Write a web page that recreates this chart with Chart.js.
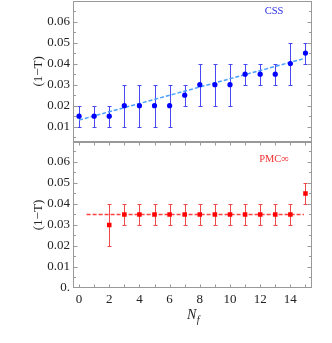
<!DOCTYPE html>
<html>
<head>
<meta charset="utf-8">
<script src="https://cdn.jsdelivr.net/npm/chart.js@4"></script>
<style>
  html, body { margin: 0; padding: 0; background: #fff; }
  #wrap { position: relative; width: 332px; height: 343px; }
  .box { position: absolute; left: 0; width: 332px; }
  #top { top: 0; height: 143px; }
  #bot { top: 142px; height: 201px; }
</style>
</head>
<body>
<div id="wrap">
  <div class="box" id="top"><canvas id="cTop"></canvas></div>
  <div class="box" id="bot"><canvas id="cBot"></canvas></div>
</div>
<script>
// data
const cssN   = [0, 1, 2, 3, 4, 5, 6, 7, 8, 9, 10, 11, 12, 13, 14, 15];
const cssVal = [0.015, 0.015, 0.015, 0.02, 0.02, 0.02, 0.02, 0.025, 0.03, 0.03, 0.03, 0.035, 0.035, 0.035, 0.04, 0.045];
const cssLo  = [0.01, 0.01, 0.01, 0.01, 0.01, 0.01, 0.01, 0.02, 0.02, 0.02, 0.02, 0.03, 0.03, 0.03, 0.03, 0.04];
const cssHi  = [0.02, 0.02, 0.02, 0.03, 0.03, 0.03, 0.03, 0.03, 0.04, 0.04, 0.04, 0.04, 0.04, 0.04, 0.05, 0.05];
const cssFitX = [0, 15];
const cssFitY = [0.0132, 0.0426];

const pmcN   = [2, 3, 4, 5, 6, 7, 8, 9, 10, 11, 12, 13, 14, 15];
const pmcVal = [0.03, 0.035, 0.035, 0.035, 0.035, 0.035, 0.035, 0.035, 0.035, 0.035, 0.035, 0.035, 0.035, 0.045];
const pmcLo  = [0.02, 0.03, 0.03, 0.03, 0.03, 0.03, 0.03, 0.03, 0.03, 0.03, 0.03, 0.03, 0.03, 0.04];
const pmcHi  = [0.04, 0.04, 0.04, 0.04, 0.04, 0.04, 0.04, 0.04, 0.04, 0.04, 0.04, 0.04, 0.04, 0.05];
const pmcFitX = [0.5, 14.9];
const pmcFitY = [0.035, 0.035];

const xTicks = [0, 2, 4, 6, 8, 10, 12, 14];
const yTicksTop = [0.01, 0.02, 0.03, 0.04, 0.05, 0.06];
const yTicksBot = [0, 0.01, 0.02, 0.03, 0.04, 0.05, 0.06];

const SERIF = "'Liberation Serif', 'DejaVu Serif', serif";

const errorBars = {
  id: 'errorBars',
  beforeDatasetsDraw(chart, args, o) {
    const { ctx, scales: { x, y } } = chart;
    ctx.save();
    ctx.strokeStyle = o.color;
    ctx.lineWidth = 1;
    o.xs.forEach((v, i) => {
      const px = Math.round(x.getPixelForValue(v)) + 0.5;
      const y1 = Math.round(y.getPixelForValue(o.lo[i])) + 0.5;
      const y2 = Math.round(y.getPixelForValue(o.hi[i])) + 0.5;
      ctx.beginPath();
      ctx.moveTo(px, y1); ctx.lineTo(px, y2);
      ctx.moveTo(px - 2, y1); ctx.lineTo(px + 2, y1);
      ctx.moveTo(px - 2, y2); ctx.lineTo(px + 2, y2);
      ctx.stroke();
    });
    ctx.restore();
  }
};

// frame, inside ticks and panel labels
const frame = {
  id: 'frame',
  afterDraw(chart, args, o) {
    const { ctx, chartArea: a, scales: { x, y } } = chart;
    const L = Math.round(a.left) + 0.5, R = Math.round(a.right) - 0.5;
    const T = Math.round(a.top) + 0.5, B = Math.round(a.bottom) - 0.5;
    ctx.save();
    ctx.strokeStyle = '#999';
    ctx.lineWidth = 1;
    ctx.strokeRect(L, T, R - L, B - T);
    ctx.beginPath();
    for (let k = 0; k <= 14; k++) {
      const v = k * 0.005;
      const py = Math.round(y.getPixelForValue(v)) + 0.5;
      if (py < T + 1 || py > B - 1) continue;
      const len = k % 2 === 0 ? 4 : 2.5;
      ctx.moveTo(L, py); ctx.lineTo(L + len, py);
      ctx.moveTo(R, py); ctx.lineTo(R - len, py);
    }
    if (o.xTicks) {
      for (let n = 0; n <= 15; n++) {
        const px = Math.round(x.getPixelForValue(n)) + 0.5;
        ctx.moveTo(px, T); ctx.lineTo(px, T + 3);
        ctx.moveTo(px, B); ctx.lineTo(px, B - 3);
      }
    }
    ctx.stroke();

    ctx.fillStyle = o.labelColor;
    ctx.font = '10.5px ' + SERIF;
    ctx.textAlign = 'center';
    ctx.textBaseline = 'middle';
    ctx.fillText(o.label, a.right - 37.5, a.top + o.labelDy);

    if (o.xTitle) {
      const cx = (a.left + a.right) / 2 + 2;
      ctx.fillStyle = '#222';
      ctx.font = 'italic 14px ' + SERIF;
      ctx.textAlign = 'right';
      ctx.fillText('N', cx + 2, a.bottom + 27);
      ctx.font = 'italic 10px ' + SERIF;
      ctx.textAlign = 'left';
      ctx.fillText('f', cx + 2.5, a.bottom + 32);
    }
    ctx.restore();
  }
};

function yScale(min, max, ticks) {
  return {
    type: 'linear',
    min: min,
    max: max,
    afterBuildTicks: s => { s.ticks = ticks.map(v => ({ value: v })); },
    afterFit: s => { s.width = 73; s.paddingTop = 0; s.paddingBottom = 0; },
    grid: { display: false, drawTicks: false },
    border: { display: false },
    ticks: {
      padding: 3,
      color: '#222',
      font: { family: SERIF, size: 13 },
      callback: v => v === 0 ? '0.' : v.toFixed(2)
    },
    title: {
      display: true,
      text: '(1\u2212T)',
      color: '#222',
      padding: { top: 31, bottom: 0 },
      font: { family: SERIF, size: 13 }
    }
  };
}

function makeChart(id, cfg) {
  return new Chart(document.getElementById(id), {
    type: 'scatter',
    data: {
      datasets: [
        {
          data: cfg.n.map((n, i) => ({ x: n, y: cfg.val[i] })),
          pointStyle: cfg.pointStyle,
          pointRadius: cfg.pointRadius,
          backgroundColor: cfg.pointColor,
          borderColor: cfg.pointColor,
          borderWidth: 0,
          order: 0
        },
        {
          data: cfg.fitX.map((v, i) => ({ x: v, y: cfg.fitY[i] })),
          showLine: true,
          pointRadius: 0,
          borderColor: cfg.fitColor,
          borderWidth: 1.5,
          borderDash: [4, 2],
          fill: false,
          order: 1
        }
      ]
    },
    options: {
      responsive: true,
      maintainAspectRatio: false,
      animation: false,
      devicePixelRatio: 1,
      events: [],
      layout: { autoPadding: false, padding: cfg.padding },
      scales: {
        x: {
          type: 'linear',
          min: -0.4,
          max: 15.4,
          display: cfg.showX,
          afterBuildTicks: s => { s.ticks = xTicks.map(v => ({ value: v })); },
          afterFit: s => { s.height = cfg.showX ? 55 : 0; s.paddingLeft = 0; s.paddingRight = 0; },
          grid: { display: false, drawTicks: false },
          border: { display: false },
          ticks: {
            padding: 4,
            maxRotation: 0,
            color: '#222',
            font: { family: SERIF, size: 13 },
            callback: v => String(v)
          }
        },
        y: yScale(cfg.ymin, cfg.ymax, cfg.yTicks)
      },
      plugins: {
        legend: { display: false },
        tooltip: { enabled: false },
        errorBars: { xs: cfg.n, lo: cfg.lo, hi: cfg.hi, color: cfg.errColor },
        frame: { xTicks: cfg.showX, label: cfg.label, labelColor: cfg.labelColor, labelDy: cfg.labelDy, xTitle: cfg.showX }
      }
    },
    plugins: [errorBars, frame]
  });
}

makeChart('cTop', {
  n: cssN, val: cssVal, lo: cssLo, hi: cssHi, fitX: cssFitX, fitY: cssFitY,
  pointStyle: 'circle', pointRadius: 2.6, pointColor: '#0000ff',
  errColor: '#4848f4', fitColor: '#4aa0ff',
  ymin: 0.0026, ymax: 0.07, yTicks: yTicksTop, showX: false,
  padding: { left: 0, right: 20.5, top: 0.5, bottom: 0.7 },
  label: 'CSS', labelColor: '#2a2ae8', labelDy: 11.2
});

makeChart('cBot', {
  n: pmcN, val: pmcVal, lo: pmcLo, hi: pmcHi, fitX: pmcFitX, fitY: pmcFitY,
  pointStyle: 'rect', pointRadius: 3.2, pointColor: '#ff0000',
  errColor: '#f04848', fitColor: '#ff4040',
  ymin: 0, ymax: 0.0695, yTicks: yTicksBot, showX: true,
  padding: { left: 0, right: 20.5, top: 0, bottom: 0 },
  label: 'PMC\u221e', labelColor: '#f03030', labelDy: 17.3
});
</script>
</body>
</html>
